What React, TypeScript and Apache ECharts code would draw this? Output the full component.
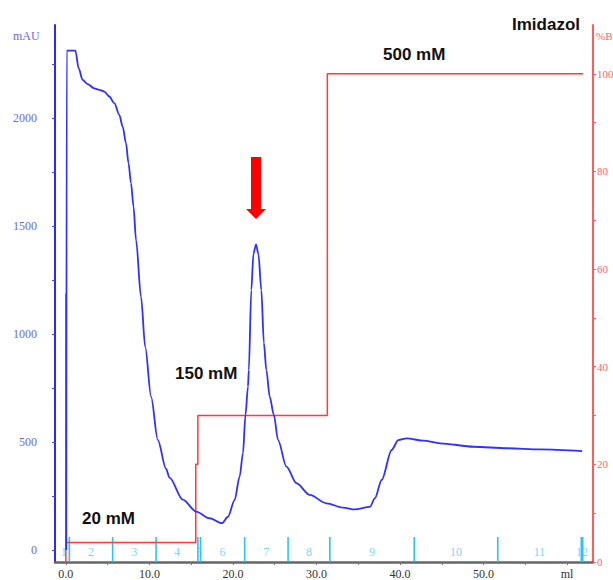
import React, { useEffect, useRef } from "react";
import * as echarts from "echarts";

// UV absorbance (mAU) vs volume (ml)
const uvTrace: [number, number][] = [
  [0.05, 0], [0.1, 2311], [1.14, 2311], [1.53, 2230], [2.0, 2176], [2.6, 2156], [3.4, 2137],
  [4.0, 2130], [4.6, 2122], [5.2, 2099], [5.8, 2068], [6.4, 2014], [6.8, 1960], [7.2, 1883],
  [7.5, 1790], [7.8, 1698], [8.1, 1589], [8.4, 1435], [9.0, 1170], [9.5, 940], [10.2, 710],
  [11.0, 510], [12.0, 375], [12.4, 335], [14.0, 233], [15.6, 178], [17.2, 147], [18.7, 124],
  [19.4, 154], [20.2, 231], [20.8, 339], [21.2, 448], [21.5, 625], [21.8, 756], [21.9, 833],
  [22.2, 1204], [22.45, 1370], [22.76, 1415], [23.05, 1370], [23.4, 1204], [23.7, 960],
  [24.0, 833], [24.4, 710], [24.9, 625], [25.4, 509], [26.4, 386], [27.6, 309], [29.2, 255],
  [31.2, 216], [33.2, 196], [34.6, 188], [36.4, 200], [37.0, 240], [37.8, 324], [39.0, 463],
  [39.8, 509], [40.8, 517], [42.8, 506], [44.8, 494], [48.8, 478], [52.8, 471], [56.8, 466],
  [61.8, 458],
];

// %B gradient vs volume (ml)
const percentB: [number, number][] = [
  [0, 0], [0, 55], [0.05, 4], [15.55, 4], [15.55, 20], [15.8, 20], [15.8, 30],
  [31.3, 30], [31.3, 100], [61.9, 100],
];

// Fraction boundaries (ml) and labels
const fracBounds = [-0.9, 0.42, 5.6, 10.8, 15.8, 16.12, 21.4, 26.6, 31.6, 41.7, 51.7, 61.7, 61.87];
const fracLabels = ["1", "2", "3", "4", "5", "6", "7", "8", "9", "10", "11", "12"];

const leftTicks = [0, 250, 500, 750, 1000, 1250, 1500, 1750, 2000, 2250];
const leftLabels = [0, 500, 1000, 1500, 2000];
const rightTicks = [0, 10, 20, 30, 40, 50, 60, 70, 80, 90, 100];
const rightLabels = [0, 20, 40, 60, 80, 100];
const xTicks = [0, 5, 10, 15, 20, 25, 30, 35, 40, 45, 50, 55, 60];
const xLabels = [0, 10, 20, 30, 40, 50, 60];

const annotations = [
  { text: "Imidazol", x: 512, y: 24 },
  { text: "500 mM", x: 383, y: 54 },
  { text: "150 mM", x: 175, y: 373 },
  { text: "20 mM", x: 82, y: 518 },
];

const SERIF = '"Liberation Serif", "DejaVu Serif", serif';
const SANS = '"Liberation Sans", Arial, sans-serif';

export default function App() {
  const ref = useRef<HTMLDivElement>(null);
  useEffect(() => {
    if (!ref.current) return;
    const chart = echarts.init(ref.current, undefined, { renderer: "svg" });
    const yMin = -55.5;
    const fracLineData = fracBounds.slice(1).map((b) => [b, 60]);
    const fracLabelData = fracLabels.map((l, i) => ({
      name: l,
      value: [(fracBounds[i] + fracBounds[i + 1]) / 2, -9],
    }));
    chart.setOption({
      animation: false,
      backgroundColor: "#ffffff",
      grid: { left: 55, right: 20, top: 25, bottom: 18, containLabel: false, outerBoundsMode: "none" },
      xAxis: {
        type: "value",
        min: -1.3,
        max: 63.1,
        splitLine: { show: false },
        axisLine: { onZero: false, lineStyle: { color: "#666666", width: 2.5 } },
        axisTick: { customValues: xTicks, length: 3, lineStyle: { color: "#777777" } },
        axisLabel: {
          customValues: xLabels,
          formatter: (v: number) => (v === 60 ? "ml" : v.toFixed(1)),
          color: "#333333",
          fontFamily: SERIF,
          fontSize: 12,
          margin: 6,
        },
      },
      yAxis: [
        {
          type: "value",
          position: "left",
          min: yMin,
          max: 2430,
          splitLine: { show: false },
          axisLine: { show: true, onZero: false, lineStyle: { color: "#2a2aff", width: 2 } },
          axisTick: { show: true, customValues: leftTicks, length: 3, lineStyle: { color: "#4444ff" } },
          axisLabel: {
            customValues: leftLabels,
            formatter: (v: number) => String(v),
            color: "#6a6aee",
            fontFamily: SERIF,
            fontSize: 12,
            margin: 18,
          },
        },
        {
          type: "value",
          position: "right",
          min: 0,
          max: 110,
          splitLine: { show: false },
          axisLine: { show: true, onZero: false, lineStyle: { color: "#ff5c5c", width: 2 } },
          axisTick: { show: true, customValues: rightTicks, length: 3, lineStyle: { color: "#ff5c5c" } },
          axisLabel: {
            customValues: rightLabels,
            formatter: (v: number) => String(v),
            color: "#ff6666",
            fontFamily: SERIF,
            fontSize: 11,
            margin: 4,
          },
        },
      ],
      series: [
        {
          type: "custom",
          name: "fractions",
          yAxisIndex: 0,
          data: fracLineData,
          renderItem: (params: any, api: any) => {
            const x = api.value(0);
            const top = api.coord([x, api.value(1)]);
            const bot = api.coord([x, yMin]);
            return {
              type: "line",
              shape: { x1: top[0], y1: top[1], x2: bot[0], y2: bot[1] },
              style: { stroke: "#2ec2f5", lineWidth: 1.6 },
            };
          },
          z: 1,
        },
        {
          type: "scatter",
          name: "fracLabels",
          yAxisIndex: 0,
          symbolSize: 0,
          data: fracLabelData,
          label: {
            show: true,
            position: "inside",
            formatter: (p: any) => p.name,
            color: "#5cc8f2",
            fontFamily: SERIF,
            fontSize: 12,
          },
          z: 1,
        },
        {
          type: "line",
          name: "%B",
          yAxisIndex: 1,
          data: percentB,
          showSymbol: false,
          lineStyle: { color: "#ff3b3b", width: 1.5 },
          z: 2,
        },
        {
          type: "line",
          name: "UV",
          yAxisIndex: 0,
          data: uvTrace,
          showSymbol: false,
          smooth: 0.3,
          smoothMonotone: "x",
          lineStyle: { color: "#3030ff", width: 1.8 },
          z: 3,
        },
      ],
      graphic: [
        {
          type: "text",
          style: { text: "mAU", x: 13, y: 36, fill: "#6a6aee", font: `12px ${SERIF}`, textVerticalAlign: "middle" },
        },
        {
          type: "text",
          style: { text: "%B", x: 596, y: 36, fill: "#ff6666", font: `11px ${SERIF}`, textVerticalAlign: "middle" },
        },
        ...annotations.map((a) => ({
          type: "text",
          style: {
            text: a.text,
            x: a.x,
            y: a.y,
            fill: "#111111",
            font: `bold 17px ${SANS}`,
            textVerticalAlign: "middle",
          },
        })),
        {
          type: "polygon",
          shape: {
            points: [
              [251, 157], [261, 157], [261, 209], [266, 209], [256, 219], [246, 209], [251, 209],
            ],
          },
          style: { fill: "#ff0000" },
        },
      ],
    });
    return () => chart.dispose();
  }, []);
  return <div ref={ref} style={{ position: "absolute", left: 0, top: 0, width: 613, height: 580 }} />;
}
